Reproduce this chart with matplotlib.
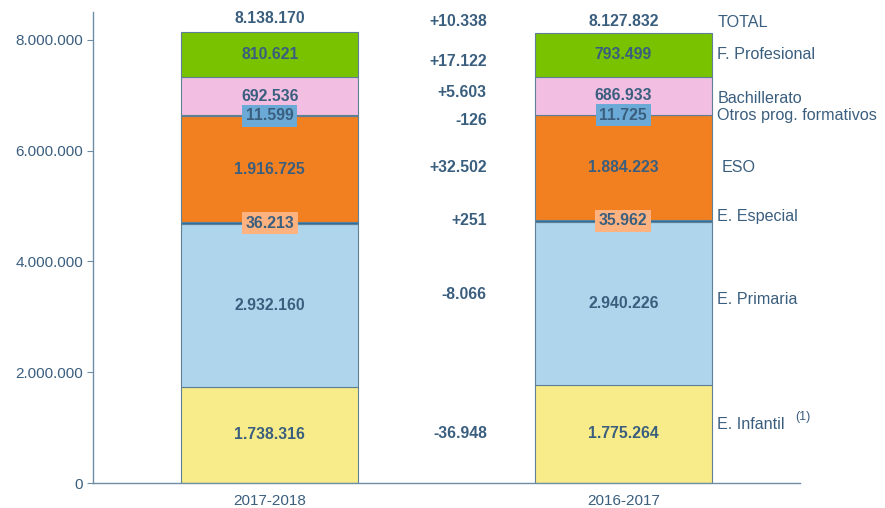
import matplotlib
matplotlib.use("Agg")
import matplotlib.pyplot as plt

plt.rcParams['font.family'] = ['Liberation Sans', 'DejaVu Sans']

years = ["2017-2018", "2016-2017"]
categories = ["E. Infantil", "E. Primaria", "E. Especial", "ESO",
              "Otros prog. formativos", "Bachillerato", "F. Profesional"]
vals_2017 = [1738316, 2932160, 36213, 1916725, 11599, 692536, 810621]
vals_2016 = [1775264, 2940226, 35962, 1884223, 11725, 686933, 793499]
totals = [8138170, 8127832]
yticks = [0, 2000000, 4000000, 6000000, 8000000]

colors = ["#F7EC89", "#AFD5ED", "#1F6FA6", "#F28021", "#6A8BA3", "#F2BFE3", "#78C200"]
label_boxes = {2: "#FDB27F", 4: "#6BAAD6"}
txt = "#3A5E7E"
axc = "#6E8EA6"

def fmt(v, sign=False):
    s = f"{abs(v):,}".replace(",", ".")
    if sign:
        return ("+" if v > 0 else "-") + s
    return s

fig = plt.figure(figsize=(8.85, 5.08), dpi=100)
ax = fig.add_axes([0.105, 0.0492, 0.799, 0.927])

data = [vals_2017, vals_2016]
width = 0.5
total_offsets = [10, 8]
for i, vals in enumerate(data):
    bottom = 0
    for j, v in enumerate(vals):
        ax.bar(i, v, width, bottom=bottom, color=colors[j], edgecolor="#5F7F96",
               linewidth=0.8, zorder=2)
        c = bottom + v / 2
        if j in label_boxes:
            ax.text(i, c, fmt(v), ha="center", va="center", fontsize=11.3,
                    fontweight="bold", color=txt, zorder=4,
                    bbox=dict(facecolor=label_boxes[j], edgecolor="none",
                              boxstyle="square,pad=0.22"))
        else:
            ax.text(i, c, fmt(v), ha="center", va="center", fontsize=11.3,
                    fontweight="bold", color=txt, zorder=4)
        bottom += v
    ax.annotate(fmt(totals[i]), (i, totals[i]), xytext=(0, total_offsets[i]),
                textcoords="offset points", ha="center", va="center", fontsize=11.3,
                fontweight="bold", color=txt)

# difference and category labels, placed at the 2016-2017 segment centres
diff_offsets = [0, 6, 0, 0, -4, 2, -5]
cat_offsets = [7, 3, 3, 0, 0, -2, 0]
bottom = 0
for j, v in enumerate(vals_2016):
    c = bottom + v / 2
    d = vals_2017[j] - v
    ax.annotate(fmt(d, sign=True), (0.5, c), xytext=(29, diff_offsets[j]),
                textcoords="offset points", ha="right", va="center", fontsize=11.3,
                fontweight="bold", color=txt)
    lab = categories[j]
    xo = 7 if lab == "ESO" else 4
    ax.annotate(lab, (1 + width / 2, c), xytext=(xo, cat_offsets[j]),
                textcoords="offset points", ha="left", va="center", fontsize=11.6,
                color=txt)
    if lab == "E. Infantil":
        ax.annotate("(1)", (1 + width / 2, c), xytext=(60, cat_offsets[j] + 5),
                    textcoords="offset points", ha="left", va="center", fontsize=9,
                    color=txt)
    bottom += v

d_tot = totals[0] - totals[1]
ax.annotate(fmt(d_tot, sign=True), (0.5, totals[1]), xytext=(29, 8),
            textcoords="offset points", ha="right", va="center", fontsize=11.3,
            fontweight="bold", color=txt)
ax.annotate("TOTAL", (1 + width / 2, totals[1]), xytext=(4, 7.5),
            textcoords="offset points", ha="left", va="center", fontsize=11.6, color=txt)

ax.set_xlim(-0.5, 1.5)
ax.set_ylim(0, 8.5e6)
ax.set_xticks([0, 1])
ax.set_xticklabels(years, fontsize=11, color=txt)
ax.set_yticks(yticks)
ax.set_yticklabels([fmt(t) for t in yticks], fontsize=11, color=txt)
ax.tick_params(axis="x", length=0, pad=8)
ax.tick_params(axis="y", length=4, color=axc, pad=3)
for s in ["top", "right"]:
    ax.spines[s].set_visible(False)
for s in ["left", "bottom"]:
    ax.spines[s].set_color(axc)
    ax.spines[s].set_linewidth(1.0)

fig.savefig("out.png", dpi=100)
